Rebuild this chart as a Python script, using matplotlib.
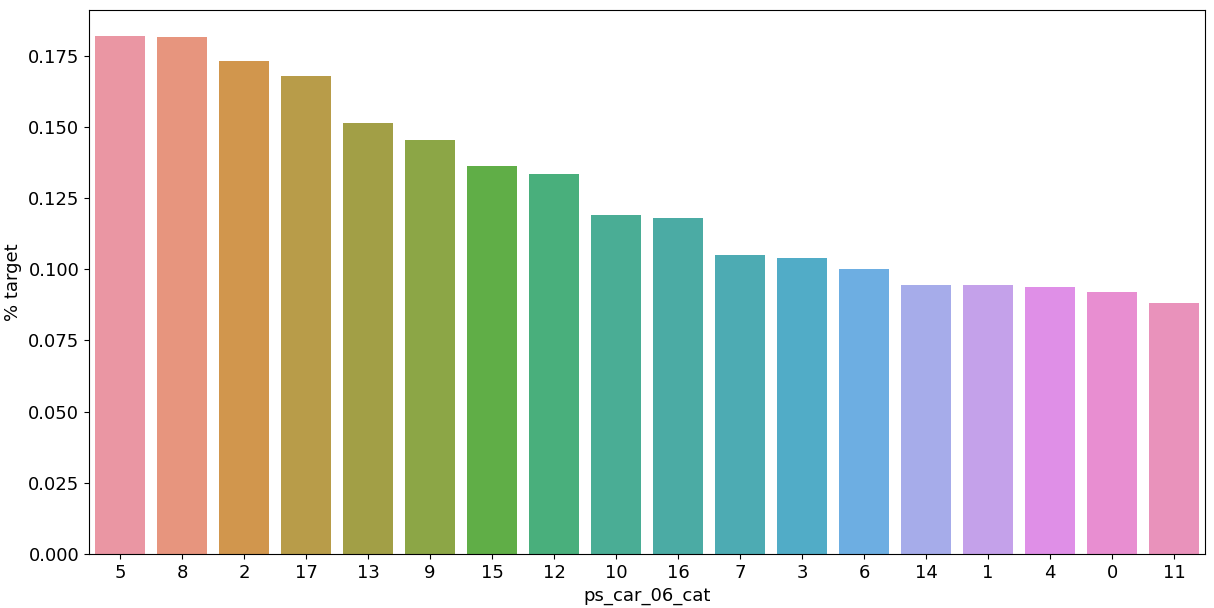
import numpy as np
import matplotlib
matplotlib.use("Agg")
import matplotlib.pyplot as plt
import seaborn as sns

categories = ["5", "8", "2", "17", "13", "9", "15", "12", "10", "16",
              "7", "3", "6", "14", "1", "4", "0", "11"]
target_pct = [0.1819, 0.1815, 0.1731, 0.1678, 0.1513, 0.1454, 0.1362, 0.1334, 0.1190,
              0.1180, 0.1050, 0.1039, 0.1001, 0.0945, 0.0945, 0.0938, 0.0920, 0.0881]

plt.rc("font", size=13)

# old seaborn barplot palette: husl with l=.7, then desaturated to .75
colors = [sns.desaturate(c, 0.75) for c in sns.husl_palette(len(categories), l=.7)]

fig = plt.figure(figsize=(12.14, 6.08), dpi=100)
ax = fig.add_axes([89 / 1214, 1 - 554 / 608, (1205 - 89) / 1214, (554 - 10) / 608])
x = np.arange(len(categories))
ax.bar(x, target_pct, width=0.8, color=colors)
ax.set_xticks(x)
ax.set_xticklabels(categories)
ax.set_xlim(-0.5, len(categories) - 0.5)
ax.set_ylim(0, 0.191)
ax.set_yticks(np.arange(0, 0.176, 0.025))
ax.set_xlabel("ps_car_06_cat")
ax.set_ylabel("% target")

fig.savefig("out.png", dpi=100)
